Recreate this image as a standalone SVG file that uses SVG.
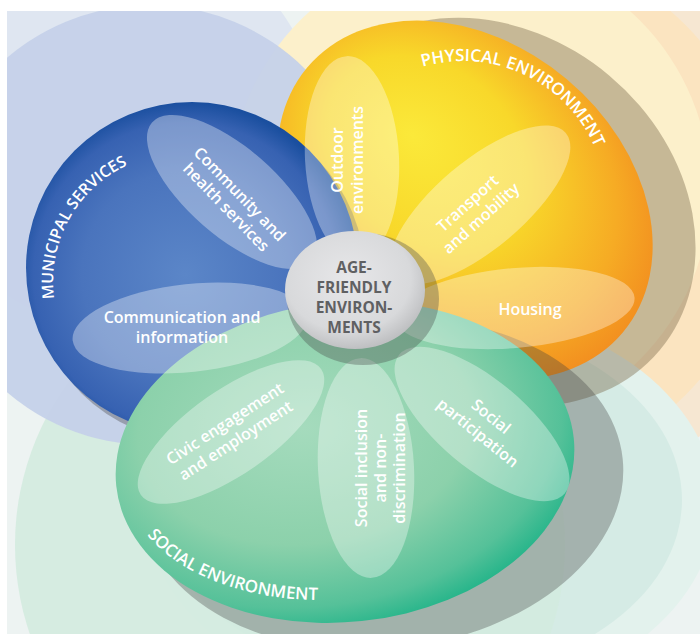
<svg xmlns="http://www.w3.org/2000/svg" width="700" height="634" viewBox="0 0 700 634">
<style>
.petal{fill:#ffffff;fill-opacity:0.34}
.lbl{font-family:"Open Sans","Noto Sans","DejaVu Sans",sans-serif;font-weight:600;font-size:16px;fill:#ffffff;text-anchor:middle}
.title{font-family:"Open Sans","Noto Sans","DejaVu Sans",sans-serif;font-weight:600;font-size:17px;fill:#ffffff}
.ctr{font-family:"Open Sans","Noto Sans","DejaVu Sans",sans-serif;font-weight:700;font-size:15.5px;fill:#5f6062;text-anchor:middle}
.shadow{fill:#3f3f3f}
</style>
<defs>
<clipPath id="frame"><rect x="7" y="11" width="693" height="623"/></clipPath>
<radialGradient id="gBlue" cx="0.48" cy="0.52" r="0.52">
<stop offset="0" stop-color="#5b86c8"/>
<stop offset="0.6" stop-color="#4a74bd"/>
<stop offset="0.88" stop-color="#3762b2"/>
<stop offset="1" stop-color="#1a4f9f"/>
</radialGradient>
<radialGradient id="gOrange" cx="0.42" cy="0.48" r="0.6" fx="0.3" fy="0.45">
<stop offset="0" stop-color="#fbe93a"/>
<stop offset="0.45" stop-color="#f8d82a"/>
<stop offset="0.8" stop-color="#f6ab24"/>
<stop offset="1" stop-color="#f28c1f"/>
</radialGradient>
<radialGradient id="gGreen" cx="0.42" cy="0.38" r="0.66">
<stop offset="0" stop-color="#a5dbbd"/>
<stop offset="0.55" stop-color="#8cd1ab"/>
<stop offset="0.85" stop-color="#55c199"/>
<stop offset="1" stop-color="#1fb388"/>
</radialGradient>
<radialGradient id="gCenter" cx="0.45" cy="0.4" r="0.6">
<stop offset="0" stop-color="#e7e7e9"/>
<stop offset="0.75" stop-color="#d8d9db"/>
<stop offset="1" stop-color="#bfc0c2"/>
</radialGradient>
<path id="arcMunicipal" d="M70.3 346.5 A129 129 0 0 1 182 153"/>
<path id="arcPhysical" d="M338.3 133 A144 144 0 0 1 598.3 254.3"/>
<path id="arcSocial" d="M-217.6 -23.8 A221 137 0 0 0 75.6 128.7"/>
</defs>

<g id="background" clip-path="url(#frame)">
<rect x="0" y="0" width="700" height="634" fill="#edf3f2"/>
<circle cx="120" cy="130" r="200" fill="#dfe6f1"/>
<circle cx="520" cy="215" r="285" fill="#f6e7d2"/>
<circle cx="500" cy="210" r="262" fill="#fbe4c0"/>
<circle cx="470" cy="190" r="240" fill="#fcf0cb"/>
<ellipse cx="430" cy="505" rx="285" ry="200" fill="#e3f2ed"/>
<ellipse cx="420" cy="500" rx="262" ry="180" fill="#d5ebe5"/>
<circle cx="290" cy="545" r="275" fill="#d3ebdf" fill-opacity="0.9"/>
<circle cx="150" cy="225" r="220" fill="#c5d1e9" fill-opacity="0.95"/>
</g>

<g id="physical-environment">
<ellipse transform="translate(495,212) rotate(40)" rx="215" ry="178" style="fill:#7d6c4c" fill-opacity="0.42"/>
<ellipse transform="translate(465,200) rotate(40)" rx="206" ry="158" fill="url(#gOrange)"/>
</g>

<g id="municipal-services">
<circle class="shadow" cx="199" cy="276" r="166" fill-opacity="0.35"/>
<circle cx="192" cy="268" r="166" fill="url(#gBlue)"/>
</g>

<g id="social-environment">
<ellipse class="shadow" transform="translate(382,484) rotate(-6)" rx="242" ry="165" fill-opacity="0.33"/>
<ellipse transform="translate(345,462) rotate(-6)" rx="230" ry="160" fill="url(#gGreen)"/>
</g>

<g id="connectors"></g>

<g id="community-health-services">
<ellipse class="petal" transform="translate(232,192) rotate(41)" rx="106" ry="44"/>
<text class="lbl" transform="translate(229,204.5) rotate(46)"><tspan x="0" y="-9.5">Community and</tspan><tspan x="0" y="9.5">health services</tspan></text>
</g>

<g id="communication-information">
<ellipse class="petal" transform="translate(190,328) rotate(-6)" rx="118" ry="44"/>
<text class="lbl"><tspan x="182" y="323">Communication and</tspan><tspan x="182" y="343">information</tspan></text>
</g>

<g id="outdoor-environments">
<ellipse class="petal" transform="translate(352,158) rotate(-3)" rx="47" ry="102"/>
<text class="lbl" transform="translate(343,160) rotate(-90)"><tspan x="0" y="0">Outdoor</tspan><tspan x="0" y="20">environments</tspan></text>
</g>

<g id="transport-mobility">
<ellipse class="petal" transform="translate(480,205) rotate(-40)" rx="112" ry="44"/>
<text class="lbl" transform="translate(478,215) rotate(-42)"><tspan x="0" y="-10">Transport</tspan><tspan x="0" y="10">and mobility</tspan></text>
</g>

<g id="housing">
<ellipse class="petal" transform="translate(515,308) rotate(-5)" rx="120" ry="40"/>
<text class="lbl" x="530" y="315">Housing</text>
</g>

<g id="civic-engagement-employment">
<ellipse class="petal" transform="translate(231,432) rotate(-35)" rx="110" ry="42"/>
<text class="lbl" transform="translate(233.4,436.7) rotate(-33)"><tspan x="0" y="-10">Civic engagement</tspan><tspan x="0" y="10">and employment</tspan></text>
</g>

<g id="social-inclusion">
<ellipse class="petal" transform="translate(366,468) rotate(-3)" rx="48" ry="110"/>
<text class="lbl" transform="translate(367,468) rotate(-90)"><tspan x="0" y="0">Social inclusion</tspan><tspan x="0" y="19">and non-</tspan><tspan x="0" y="38">discrimination</tspan></text>
</g>

<g id="social-participation">
<ellipse class="petal" transform="translate(482,424) rotate(40)" rx="108" ry="44"/>
<text class="lbl" transform="translate(481,429) rotate(39)"><tspan x="0" y="-10.5">Social</tspan><tspan x="0" y="10.5">participation</tspan></text>
</g>

<g id="age-friendly-environments">
<ellipse class="shadow" cx="363" cy="299" rx="76" ry="66" fill-opacity="0.33"/>
<ellipse cx="355" cy="290" rx="70" ry="59" fill="url(#gCenter)"/>
<text class="ctr"><tspan x="354" y="273">AGE-</tspan><tspan x="354" y="293">FRIENDLY</tspan><tspan x="354" y="313">ENVIRON-</tspan><tspan x="354" y="333">MENTS</tspan></text>
</g>

<g id="category-titles">
<text class="title" style="font-size:16px"><textPath href="#arcMunicipal" startOffset="49%" text-anchor="middle">MUNICIPAL SERVICES</textPath></text>
<text class="title"><textPath href="#arcPhysical" startOffset="50%" text-anchor="middle">PHYSICAL ENVIRONMENT</textPath></text>
<g transform="translate(345,462) rotate(-6)">
<text class="title"><textPath href="#arcSocial" startOffset="45%" text-anchor="middle">SOCIAL ENVIRONMENT</textPath></text>
</g>
</g>
</svg>
